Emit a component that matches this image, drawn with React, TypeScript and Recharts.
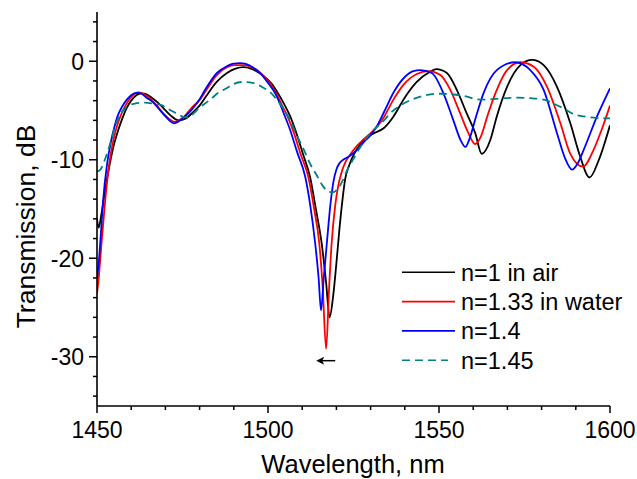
import { LineChart, Line, XAxis, YAxis, Legend, ReferenceDot } from "recharts";

// wavelength (nm), transmission (dB)
const airData = [
  [1450, -16.0], [1450.5, -16.9], [1451.3, -15.5], [1452.5, -12.8], [1453.8, -10.3],
  [1455, -8.4], [1456.2, -7.0], [1457.3, -5.9], [1458.6, -4.8], [1460, -4.0],
  [1461.5, -3.45], [1463, -3.26], [1464.5, -3.35], [1466, -3.7], [1467.8, -4.2],
  [1469.4, -4.75], [1471.5, -5.5], [1473.8, -6.0], [1476, -5.8], [1478, -5.2],
  [1480.1, -4.45], [1482, -3.5], [1485, -2.1], [1488, -1.2], [1490.5, -0.75],
  [1492.8, -0.6], [1495, -0.75], [1497, -1.1], [1499, -1.6], [1501.1, -2.3],
  [1503, -3.3], [1504.8, -4.4], [1506.5, -5.6], [1508.3, -7.3], [1510.3, -9.5],
  [1512.3, -11.75], [1514, -15.0], [1515.7, -18.5], [1517, -22.5], [1518, -26.0],
  [1519, -24.0], [1520, -20.5], [1520.9, -17.0], [1521.8, -14.0], [1522.6, -11.9],
  [1523.8, -10.5], [1525.2, -9.4], [1527, -8.4], [1529, -7.7], [1531, -7.3],
  [1533.8, -6.8], [1536.7, -5.6], [1539.6, -3.9], [1543.5, -2.1], [1547.4, -1.06],
  [1549.2, -0.8], [1552.3, -1.2], [1555.2, -2.9], [1558.1, -5.3], [1560.6, -7.3],
  [1562.5, -9.4], [1565, -8.0], [1566.9, -5.6], [1569.9, -2.6], [1573.8, -0.4],
  [1577.2, 0.13], [1580.6, -0.4], [1584.5, -2.6], [1588.4, -6.3], [1591.3, -9.7],
  [1594, -11.8], [1596.7, -10.05], [1600, -6.5],
];

const waterData = [
  [1450, -23.6], [1450.5, -22.0], [1451.2, -19.0], [1452.3, -14.5], [1453.5, -10.6],
  [1454.5, -8.5], [1455.5, -7.0], [1456.5, -5.9], [1457.7, -4.9], [1459, -4.1],
  [1460.5, -3.45], [1462.2, -3.15], [1464.5, -3.5], [1467, -4.3], [1470, -5.5],
  [1472.8, -6.15], [1475.5, -5.6], [1478, -4.6], [1480.1, -3.9], [1482, -2.9],
  [1485, -1.4], [1488, -0.6], [1490.2, -0.4], [1492.3, -0.4], [1494.5, -0.5],
  [1496.5, -0.85], [1498.5, -1.4], [1500.6, -2.24], [1502.4, -3.26], [1504, -4.4],
  [1505.7, -5.6], [1507.5, -7.2], [1509.5, -9.4], [1511.8, -11.75], [1513.5, -15.0],
  [1515, -18.5], [1516, -23.0], [1517, -29.2], [1517.8, -23.5], [1518.6, -18.5],
  [1519.7, -14.5], [1520.5, -12.7], [1521.5, -11.3], [1522.7, -10.2], [1524, -9.5],
  [1526, -8.6], [1528, -7.9], [1530, -7.3], [1532, -6.6], [1534, -5.6],
  [1536.5, -4.0], [1539.6, -2.4], [1543.5, -1.3], [1546.9, -1.0], [1550.4, -1.4],
  [1553.3, -2.9], [1556.2, -5.3], [1558.6, -7.3], [1560.5, -8.4], [1562.3, -7.6],
  [1564.2, -5.5], [1566.9, -2.9], [1569.9, -0.9], [1573.8, -0.1], [1577.7, -0.55],
  [1581.6, -2.6], [1585.5, -6.3], [1588.4, -9.4], [1592.1, -10.7], [1595.2, -9.0],
  [1597.5, -7.0], [1600, -4.5],
];

const n14Data = [
  [1450, -22.0], [1450.5, -20.5], [1451, -18.2], [1451.8, -14.1], [1453, -10.3],
  [1454, -8.3], [1455, -6.8], [1456, -5.6], [1457.2, -4.7], [1458.5, -4.0],
  [1460, -3.45], [1461.6, -3.2], [1463, -3.3], [1464.5, -3.7], [1466.2, -4.1],
  [1467.9, -4.75], [1470, -5.6], [1472.5, -6.3], [1475, -5.8], [1477, -5.2],
  [1478.7, -4.5], [1480.1, -3.8], [1481.6, -2.9], [1485, -1.2], [1488, -0.5],
  [1489.9, -0.25], [1491.8, -0.2], [1493.7, -0.3], [1495.5, -0.6], [1498, -1.3],
  [1500.1, -2.24], [1502.1, -3.26], [1503.5, -4.3], [1504.5, -5.2], [1506.5, -7.0],
  [1508.5, -9.2], [1510.9, -11.75], [1512.3, -14.5], [1513.8, -18.5], [1514.8, -22.0],
  [1515.5, -25.3], [1516.3, -22.0], [1517.2, -18.5], [1518.2, -14.7], [1519.1, -12.3],
  [1520, -11.0], [1521, -10.3], [1522.2, -9.95], [1524, -9.6], [1526, -9.0],
  [1528, -8.2], [1530, -7.5], [1532, -6.5], [1534, -5.1], [1537, -3.0],
  [1540, -1.6], [1542.5, -1.0], [1544.5, -0.9], [1547.9, -1.2], [1551.3, -3.26],
  [1554.2, -6.0], [1556.3, -8.0], [1557.7, -8.7], [1559.1, -7.7], [1560.6, -5.9],
  [1563, -3.26], [1566.9, -0.9], [1572.3, -0.1], [1576.7, -0.9], [1580.6, -2.9],
  [1584.5, -7.3], [1586.8, -9.8], [1588.9, -11.0], [1590.5, -10.4], [1592.3, -9.0],
  [1596.2, -5.6], [1600, -2.75],
];

const n145Data = [
  [1450, -11.2], [1451, -11.0], [1452.3, -10.0], [1454, -8.2], [1455.5, -6.4],
  [1457, -5.3], [1458.8, -4.6], [1461, -4.3], [1464, -4.2], [1466.5, -4.3],
  [1468.9, -4.45], [1470.5, -4.8], [1472.2, -5.1], [1474, -5.45], [1475.7, -5.7],
  [1477.5, -5.5], [1480, -4.7], [1483.1, -3.9], [1485.5, -3.2], [1487.9, -2.75],
  [1490, -2.3], [1492.7, -2.1], [1495.5, -2.2], [1498.2, -2.6], [1500.5, -3.1],
  [1502.6, -3.9], [1504.5, -4.8], [1506.5, -6.0], [1508.5, -7.6], [1510.5, -9.0],
  [1512.3, -10.4], [1514.3, -11.6], [1516.1, -12.7], [1517.5, -13.2], [1519, -13.3],
  [1520.5, -12.9], [1522, -12.0], [1523.1, -11.1], [1525, -9.9], [1527, -8.7],
  [1530, -7.3], [1533.9, -6.0], [1536, -5.2], [1538.7, -4.5], [1542, -3.9],
  [1545.6, -3.5], [1549, -3.3], [1551.4, -3.3], [1555, -3.4], [1558.2, -3.6],
  [1561, -3.85], [1563.1, -3.9], [1566, -3.85], [1569, -3.75], [1572.9, -3.7],
  [1576.5, -3.75], [1580.7, -3.9], [1583.5, -4.3], [1586.5, -4.8], [1589.5, -5.4],
  [1592.4, -5.6], [1596, -5.75], [1600, -5.8],
];

const xTicks = [1450, 1460, 1470, 1480, 1490, 1500, 1510, 1520, 1530, 1540, 1550, 1560, 1570, 1580, 1590, 1600];
const xLabels = [1450, 1500, 1550, 1600];
const yTicks = [-34, -32, -30, -28, -26, -24, -22, -20, -18, -16, -14, -12, -10, -8, -6, -4, -2, 0, 2, 4];
const yLabels = [-30, -20, -10, 0];

// the little arrow under the resonance dip
const arrowAt = { x: 1514.1, y: -30.4 };

const FONT = "'Liberation Sans', Arial, Helvetica, sans-serif";

const series = [
  { name: "n=1 in air", color: "#000000", data: airData, dash: undefined },
  { name: "n=1.33 in water", color: "#ff0000", data: waterData, dash: undefined },
  { name: "n=1.4", color: "#0000ff", data: n14Data, dash: undefined },
  { name: "n=1.45", color: "#008080", data: n145Data, dash: "8 5" },
];

const toRows = (pts) => pts.map(([x, y]) => ({ x, y }));

function XTick({ x, y, payload }) {
  const major = xLabels.includes(payload.value);
  return (
    <g>
      <line x1={x} x2={x} y1={y} y2={y + (major ? 7 : 4)} stroke="#000" strokeWidth={1.5} />
      {major && (
        <text x={x} y={y + 32} textAnchor="middle" fontSize={23} fontFamily={FONT} fill="#000">
          {payload.value}
        </text>
      )}
    </g>
  );
}

function YTick({ x, y, payload }) {
  const major = yLabels.includes(payload.value);
  return (
    <g>
      <line x1={x - (major ? 8 : 4)} x2={x} y1={y} y2={y} stroke="#000" strokeWidth={1.5} />
      {major && (
        <text x={x - 13} y={y} dy="0.36em" textAnchor="end" fontSize={23} fontFamily={FONT} fill="#000">
          {payload.value}
        </text>
      )}
    </g>
  );
}

function ArrowMark({ cx, cy }) {
  if (cx == null || cy == null) return null;
  return (
    <g>
      <line x1={cx + 4} x2={cx + 19} y1={cy} y2={cy} stroke="#000" strokeWidth={1.5} />
      <path d={`M${cx},${cy} L${cx + 8},${cy - 4} L${cx + 6},${cy} L${cx + 8},${cy + 4} Z`} fill="#000" />
    </g>
  );
}

const renderLegend = () => (
  <svg width={235} height={120}>
    {series.map((s, i) => {
      const yy = 14.3 + i * 29.3;
      return (
        <g key={s.name}>
          <line x1={2} x2={s.dash ? 48 : 55} y1={yy} y2={yy} stroke={s.color} strokeWidth={1.6} strokeDasharray={s.dash} />
          <text x={61} y={yy} dy="0.36em" fontSize={23.5} fontFamily={FONT} fill="#000">
            {s.name}
          </text>
        </g>
      );
    })}
  </svg>
);

export default function App() {
  return (
    <div style={{ position: "absolute", left: 0, top: 0, width: 637, height: 479, background: "#fff" }}>
      <LineChart width={637} height={479} margin={{ top: 12, right: 27, bottom: 0, left: 0 }}>
        <XAxis
          type="number"
          dataKey="x"
          domain={[1450, 1600]}
          ticks={xTicks}
          interval={0}
          allowDataOverflow
          height={73}
          tickSize={0}
          tickMargin={0}
          tickLine={false}
          axisLine={{ stroke: "#000", strokeWidth: 1.6 }}
          tick={<XTick />}
          label={() => (
            <text x={353} y={473} textAnchor="middle" fontSize={25.5} fontFamily={FONT} fill="#000">
              Wavelength, nm
            </text>
          )}
        />
        <YAxis
          type="number"
          dataKey="y"
          domain={[-35, 5]}
          ticks={yTicks}
          interval={0}
          allowDataOverflow
          width={97}
          tickSize={0}
          tickMargin={0}
          tickLine={false}
          axisLine={{ stroke: "#000", strokeWidth: 1.6 }}
          tick={<YTick />}
          label={() => (
            <text
              x={35}
              y={226.5}
              transform="rotate(-90, 35, 226.5)"
              textAnchor="middle"
              fontSize={26.5}
              fontFamily={FONT}
              fill="#000"
            >
              Transmission, dB
            </text>
          )}
        />
        {series.map((s) => (
          <Line
            key={s.name}
            data={toRows(s.data)}
            dataKey="y"
            name={s.name}
            type="monotone"
            stroke={s.color}
            strokeWidth={1.8}
            strokeDasharray={s.dash}
            dot={false}
            activeDot={false}
            isAnimationActive={false}
          />
        ))}
        <ReferenceDot x={arrowAt.x} y={arrowAt.y} r={0} shape={ArrowMark} />
        <Legend
          layout="vertical"
          align="center"
          verticalAlign="middle"
          content={renderLegend}
          wrapperStyle={{ position: "absolute", left: 400, top: 258, width: 235, height: 120 }}
        />
      </LineChart>
    </div>
  );
}
